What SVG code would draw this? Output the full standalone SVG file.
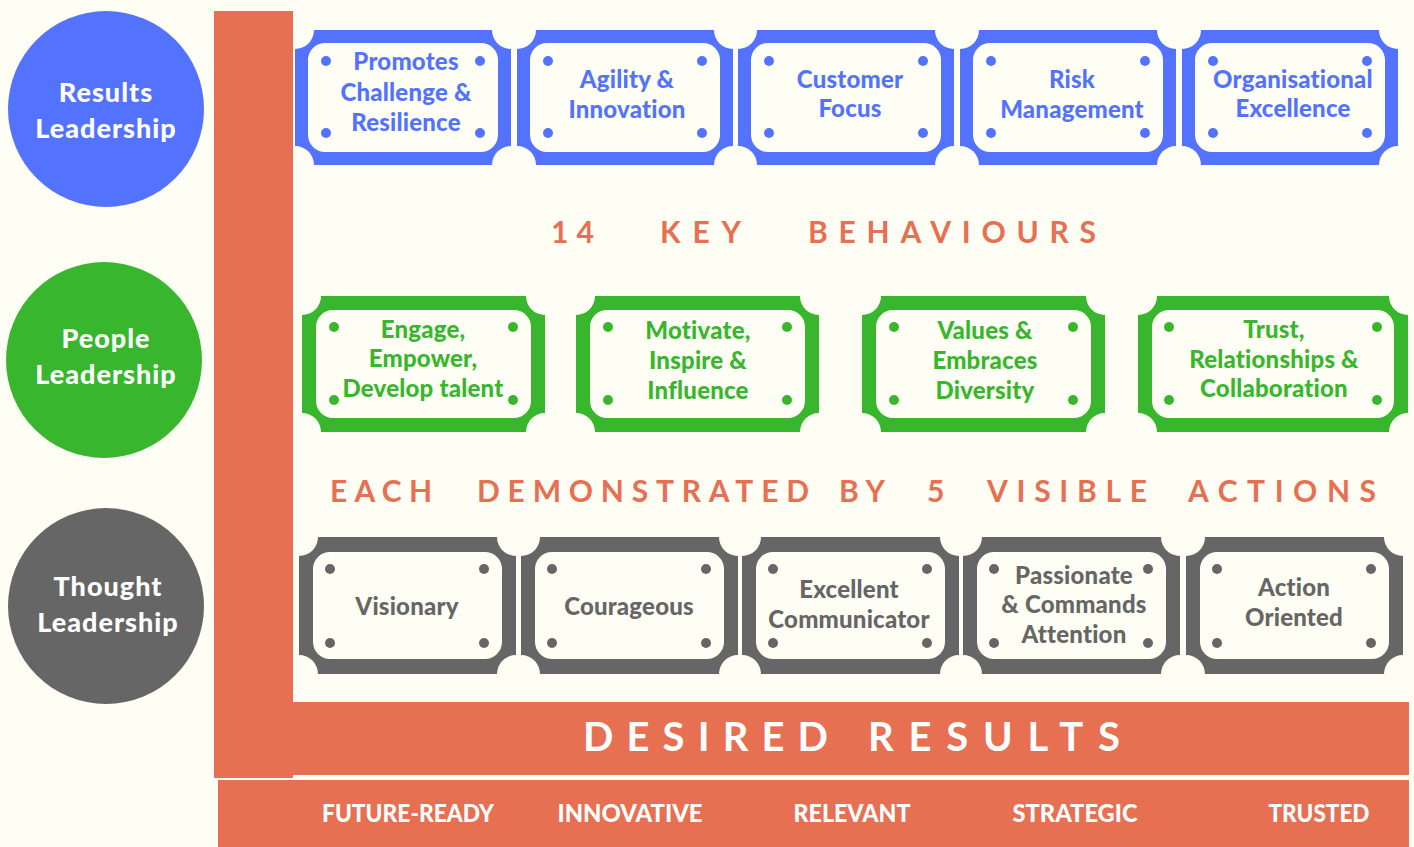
<svg xmlns="http://www.w3.org/2000/svg" xmlns:xlink="http://www.w3.org/1999/xlink" width="1414" height="847" viewBox="0 0 1414 847">
<style>
  .bg { fill: #FEFEF4; }
  .cream { fill: #FEFEF4; }
  .orange { fill: #E76F52; }
  .blue { fill: #5373FE; }
  .green { fill: #38B72E; }
  .grey { fill: #666666; }
  text { font-family: Lato, "Open Sans", "Liberation Sans", sans-serif; font-weight: 900; }
  .circ { fill: #FFFFFF; font-size: 27px; text-anchor: middle; letter-spacing: 1px; }
  .tag { font-size: 24px; text-anchor: middle; letter-spacing: 0.2px; }
  .tb { fill: #5373FE; }
  .tg { fill: #38B72E; }
  .tr { fill: #666666; }
  .head { fill: #E76F52; font-size: 30px; font-weight: 700; }
  .desired { fill: #FFFFFF; font-size: 40px; font-weight: 700; }
  .res { fill: #FFFFFF; font-size: 24px; text-anchor: middle; }
</style>
<defs>
  <path id="shB" d="M19,0 H197 A19,19 0 0 0 216,19 V116 A19,19 0 0 0 197,135 H19 A19,19 0 0 0 0,116 V19 A19,19 0 0 0 19,0 Z"/>
  <path id="shG" d="M19,0 H224 A19,19 0 0 0 243,19 V117 A19,19 0 0 0 224,136 H19 A19,19 0 0 0 0,117 V19 A19,19 0 0 0 19,0 Z"/>
  <path id="shT" d="M19,0 H251 A19,19 0 0 0 270,19 V117 A19,19 0 0 0 251,136 H19 A19,19 0 0 0 0,117 V19 A19,19 0 0 0 19,0 Z"/>
  <path id="shR" d="M19,0 H198 A19,19 0 0 0 217,19 V118 A19,19 0 0 0 198,137 H19 A19,19 0 0 0 0,118 V19 A19,19 0 0 0 19,0 Z"/>
  <g id="tagB">
    <use xlink:href="#shB" class="blue"/>
    <rect x="13" y="13" width="190" height="109" rx="17" class="cream"/>
    <circle cx="31" cy="31" r="5" class="blue"/><circle cx="185" cy="31" r="5" class="blue"/>
    <circle cx="31" cy="103" r="5" class="blue"/><circle cx="185" cy="103" r="5" class="blue"/>
  </g>
  <g id="tagG">
    <use xlink:href="#shG" class="green"/>
    <rect x="14" y="14" width="215" height="108" rx="17" class="cream"/>
    <circle cx="32" cy="31" r="5" class="green"/><circle cx="211" cy="31" r="5" class="green"/>
    <circle cx="32" cy="104" r="5" class="green"/><circle cx="211" cy="104" r="5" class="green"/>
  </g>
  <g id="tagT">
    <use xlink:href="#shT" class="green"/>
    <rect x="14" y="14" width="242" height="108" rx="17" class="cream"/>
    <circle cx="31" cy="31" r="5" class="green"/><circle cx="239" cy="31" r="5" class="green"/>
    <circle cx="31" cy="104" r="5" class="green"/><circle cx="239" cy="104" r="5" class="green"/>
  </g>
  <g id="tagR">
    <use xlink:href="#shR" class="grey"/>
    <rect x="14" y="15" width="189" height="107" rx="17" class="cream"/>
    <circle cx="31" cy="32" r="5" class="grey"/><circle cx="185" cy="32" r="5" class="grey"/>
    <circle cx="31" cy="106" r="5" class="grey"/><circle cx="185" cy="106" r="5" class="grey"/>
  </g>
</defs>

<rect class="bg" x="0" y="0" width="1414" height="847"/>

<g id="frame">
  <rect class="orange" x="214" y="11" width="79" height="767"/>
  <rect class="orange" x="293" y="702" width="1116" height="73"/>
  <rect class="orange" x="218" y="780" width="1191" height="67"/>
</g>

<g id="connectors"></g>

<g id="results-leadership">
  <circle cx="106" cy="109" r="98" class="blue"/>
  <text class="circ" x="106" y="102">Results</text>
  <text class="circ" x="106" y="138">Leadership</text>
</g>
<g id="people-leadership">
  <circle cx="104" cy="360" r="98" class="green"/>
  <text class="circ" x="106" y="348">People</text>
  <text class="circ" x="106" y="384">Leadership</text>
</g>
<g id="thought-leadership">
  <circle cx="106" cy="606" r="98" class="grey"/>
  <text class="circ" x="108" y="596">Thought</text>
  <text class="circ" x="108" y="632">Leadership</text>
</g>

<g id="promotes-challenge">
  <use xlink:href="#tagB" x="295" y="30"/>
  <text class="tag tb" x="406" y="70">Promotes</text>
  <text class="tag tb" x="406" y="101">Challenge &amp;</text>
  <text class="tag tb" x="406" y="131">Resilience</text>
</g>
<g id="agility-innovation">
  <use xlink:href="#tagB" x="517" y="30"/>
  <text class="tag tb" x="627" y="88">Agility &amp;</text>
  <text class="tag tb" x="627" y="118">Innovation</text>
</g>
<g id="customer-focus">
  <use xlink:href="#tagB" x="738" y="30"/>
  <text class="tag tb" x="850" y="88">Customer</text>
  <text class="tag tb" x="850" y="117">Focus</text>
</g>
<g id="risk-management">
  <use xlink:href="#tagB" x="960" y="30"/>
  <text class="tag tb" x="1072" y="88">Risk</text>
  <text class="tag tb" x="1072" y="118">Management</text>
</g>
<g id="organisational-excellence">
  <use xlink:href="#tagB" x="1182" y="30"/>
  <text class="tag tb" x="1293" y="88">Organisational</text>
  <text class="tag tb" x="1293" y="117">Excellence</text>
</g>

<g id="key-behaviours">
  <text class="head" x="551" y="243" textLength="43" lengthAdjust="spacing">14</text>
  <text class="head" x="660" y="243" textLength="81" lengthAdjust="spacing">KEY</text>
  <text class="head" x="808" y="243" textLength="288" lengthAdjust="spacing">BEHAVIOURS</text>
</g>

<g id="engage-empower">
  <use xlink:href="#tagG" x="302" y="296"/>
  <text class="tag tg" x="423" y="338">Engage,</text>
  <text class="tag tg" x="423" y="367">Empower,</text>
  <text class="tag tg" x="423" y="397">Develop talent</text>
</g>
<g id="motivate-inspire">
  <use xlink:href="#tagG" x="576" y="296"/>
  <text class="tag tg" x="698" y="339">Motivate,</text>
  <text class="tag tg" x="698" y="369">Inspire &amp;</text>
  <text class="tag tg" x="698" y="399">Influence</text>
</g>
<g id="values-diversity">
  <use xlink:href="#tagG" x="862" y="296"/>
  <text class="tag tg" x="985" y="339">Values &amp;</text>
  <text class="tag tg" x="985" y="369">Embraces</text>
  <text class="tag tg" x="985" y="399">Diversity</text>
</g>
<g id="trust-collaboration">
  <use xlink:href="#tagT" x="1138" y="296"/>
  <text class="tag tg" x="1274" y="338">Trust,</text>
  <text class="tag tg" x="1274" y="368">Relationships &amp;</text>
  <text class="tag tg" x="1274" y="397">Collaboration</text>
</g>

<g id="visible-actions">
  <text class="head" x="330" y="502" textLength="102" lengthAdjust="spacing">EACH</text>
  <text class="head" x="477" y="502" textLength="332" lengthAdjust="spacing">DEMONSTRATED</text>
  <text class="head" x="839" y="502" textLength="46" lengthAdjust="spacing">BY</text>
  <text class="head" x="927" y="502">5</text>
  <text class="head" x="987" y="502" textLength="160" lengthAdjust="spacing">VISIBLE</text>
  <text class="head" x="1188" y="502" textLength="188" lengthAdjust="spacing">ACTIONS</text>
</g>

<g id="visionary">
  <use xlink:href="#tagR" x="299" y="537"/>
  <text class="tag tr" x="407" y="615">Visionary</text>
</g>
<g id="courageous">
  <use xlink:href="#tagR" x="521" y="537"/>
  <text class="tag tr" x="629" y="615">Courageous</text>
</g>
<g id="excellent-communicator">
  <use xlink:href="#tagR" x="742" y="537"/>
  <text class="tag tr" x="849" y="598">Excellent</text>
  <text class="tag tr" x="849" y="628">Communicator</text>
</g>
<g id="passionate-attention">
  <use xlink:href="#tagR" x="963" y="537"/>
  <text class="tag tr" x="1074" y="584">Passionate</text>
  <text class="tag tr" x="1074" y="613">&amp; Commands</text>
  <text class="tag tr" x="1074" y="643">Attention</text>
</g>
<g id="action-oriented">
  <use xlink:href="#tagR" x="1186" y="537"/>
  <text class="tag tr" x="1294" y="596">Action</text>
  <text class="tag tr" x="1294" y="626">Oriented</text>
</g>

<g id="desired-results">
  <text class="desired" x="583" y="751" textLength="245" lengthAdjust="spacing">DESIRED</text>
  <text class="desired" x="868" y="751" textLength="252" lengthAdjust="spacing">RESULTS</text>
</g>

<g id="results-list">
  <text class="res" x="408" y="822" textLength="172" lengthAdjust="spacingAndGlyphs">FUTURE-READY</text>
  <text class="res" x="630" y="822" textLength="145" lengthAdjust="spacingAndGlyphs">INNOVATIVE</text>
  <text class="res" x="852" y="822" textLength="117" lengthAdjust="spacingAndGlyphs">RELEVANT</text>
  <text class="res" x="1075" y="822" textLength="125" lengthAdjust="spacingAndGlyphs">STRATEGIC</text>
  <text class="res" x="1319" y="822" textLength="101" lengthAdjust="spacingAndGlyphs">TRUSTED</text>
</g>
</svg>
